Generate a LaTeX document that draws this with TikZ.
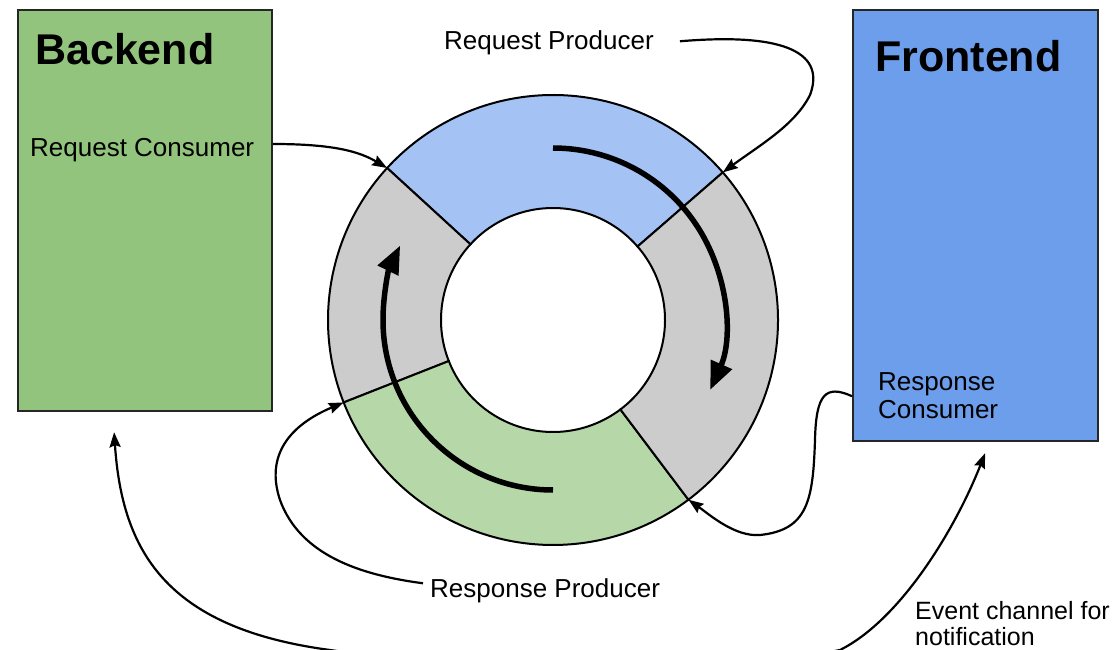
\documentclass[tikz,border=0pt]{standalone}
\usepackage{fontspec}
\setmainfont{Liberation Sans}
\usetikzlibrary{arrows.meta,calc}

\definecolor{bkfill}{HTML}{93C47D}
\definecolor{frfill}{HTML}{6D9EEB}
\definecolor{ringblue}{HTML}{A4C2F4}
\definecolor{ringgreen}{HTML}{B6D7A8}
\definecolor{ringgray}{HTML}{CCCCCC}

\tikzset{
  panel/.style={draw=black!85, line width=2.2pt, anchor=north west, inner sep=0pt},
  title/.style={font=\fontsize{43}{50}\selectfont\bfseries, anchor=base west, inner sep=0pt},
  label/.style={font=\fontsize{26}{28}\selectfont, inner sep=0pt},
  segment/.style={draw=black, line width=2pt},
  link/.style={draw=black, line width=2.2pt, -{Stealth[length=15pt,width=11pt,inset=2pt]}},
  bothlink/.style={draw=black, line width=2.2pt, {Stealth[length=15pt,width=11pt,inset=2pt]}-{Stealth[length=15pt,width=11pt,inset=2pt]}},
  flow/.style={draw=black, line width=5.5pt, -{Triangle[length=28pt,width=22pt]}},
}

\begin{document}
\begin{tikzpicture}[x=1pt, y=-1pt]
\useasboundingbox (0,0) rectangle (1120,650);
\fill[white] (0,0) rectangle (1120,650);
\clip (0,0) rectangle (1120,650);

% Side panels
\node[panel, fill=bkfill, minimum width=254pt, minimum height=401pt] (bk) at (17,9) {};
\node[panel, fill=frfill, minimum width=245pt, minimum height=431pt] (fr) at (852,9) {};
\node[title] (bkt) at (35,65) {Backend};
\node[title] (frt) at (875,72) {Frontend};

% Text labels
\node[label, anchor=base west] (rcn) at (30,157) {Request Consumer};
\node[label, anchor=base west] (rpr) at (444,50) {Request Producer};
\node[label, anchor=base west] (rpd) at (430,597) {Response Producer};
\node[label, anchor=north west, align=left] (rcs) at (878,372) {Response\\Consumer};
\node[label, anchor=north west, align=left, font=\fontsize{25}{26}\selectfont] (evt) at (915,601) {Event channel for\\notification};

% Ring buffer
\begin{scope}[shift={(553,320)}, yscale=-1]
  \def\Rin{112}
  \def\Rout{225}
  \foreach \a/\b/\c in {41/137.5/ringblue, 137.5/201.5/ringgray, 201.5/307/ringgreen, 307/401/ringgray}{
    \path[segment, fill=\c] (\a:\Rin) -- (\a:\Rout)
      arc[start angle=\a, end angle=\b, radius=\Rout] -- (\b:\Rin)
      arc[start angle=\b, end angle=\a, radius=\Rin] -- cycle;
  }
  \coordinate (p1) at (137.5:\Rout);
  \coordinate (p2) at (41:\Rout);
  \coordinate (p3) at (-53:\Rout);
  \coordinate (p4) at (201.5:\Rout);
  \draw[flow] (90:172) arc[start angle=90, end angle=-24, radius=172];
  \draw[flow] (270:170) arc[start angle=270, end angle=154, radius=170];
\end{scope}

% Connectors
\coordinate (rcout) at ($(bk.north east)+(0,135)$);
\draw[link] (rcout) .. controls (335,144) and (360,152) .. (p1);

\coordinate (rprout) at ($(rpr.east)+(26,-2)$);
\draw[link] (rprout) .. controls (790,32) and (825,55) .. (810,95)
  .. controls (795,125) and (760,145) .. (p2);

\coordinate (rcsout) at ($(fr.south west)+(0,-46)$);
\draw[link] (rcsout) .. controls (825,384) and (816,395) .. (815,440)
  .. controls (813,500) and (808,530) .. (760,535)
  .. controls (735,537) and (710,515) .. (p3);

\coordinate (rpdout) at ($(rpd.west)+(-7,-7)$);
\draw[link] (rpdout) .. controls (360,575) and (300,555) .. (280,500)
  .. controls (265,455) and (290,425) .. (p4);

\coordinate (evL) at ($(bk.south)+(-31,20)$);
\coordinate (evR) at ($(fr.south)+(9.5,11)$);
\draw[bothlink] (evL) .. controls (122,550) and (165,628) .. (330,650)
  .. controls (450,668) and (720,675) .. (840,650)
  .. controls (900,620) and (955,530) .. (evR);
\end{tikzpicture}
\end{document}
